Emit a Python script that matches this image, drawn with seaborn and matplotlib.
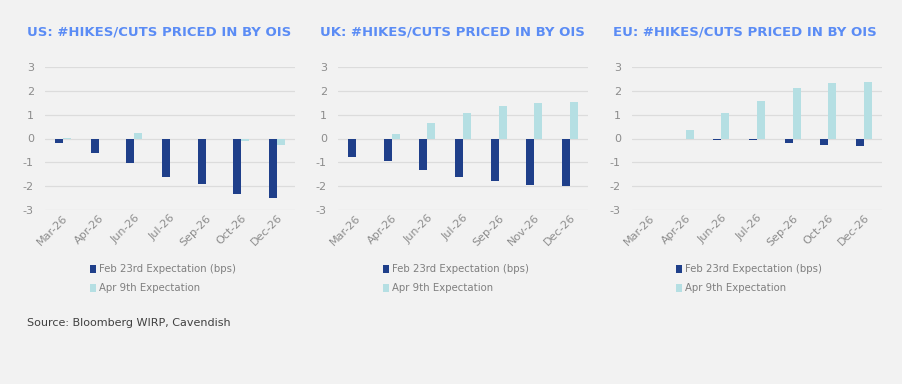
import pandas as pd
import matplotlib
matplotlib.use("Agg")
import matplotlib.pyplot as plt
import seaborn as sns

# Data (number of hikes/cuts priced in)
us_months = ["Mar-26", "Apr-26", "Jun-26", "Jul-26", "Sep-26", "Oct-26", "Dec-26"]
us_feb = [-0.17, -0.62, -1.03, -1.6, -1.9, -2.33, -2.49]
us_apr = [0.02, 0.0, 0.25, 0.0, -0.04, -0.1, -0.28]

uk_months = ["Mar-26", "Apr-26", "Jun-26", "Jul-26", "Sep-26", "Nov-26", "Dec-26"]
uk_feb = [-0.78, -0.96, -1.34, -1.62, -1.78, -1.96, -1.99]
uk_apr = [0.0, 0.17, 0.66, 1.06, 1.37, 1.48, 1.54]

eu_months = ["Mar-26", "Apr-26", "Jun-26", "Jul-26", "Sep-26", "Oct-26", "Dec-26"]
eu_feb = [0.0, 0.0, -0.07, -0.07, -0.2, -0.26, -0.33]
eu_apr = [0.0, 0.36, 1.06, 1.58, 2.1, 2.32, 2.38]

series_names = ["Feb 23rd Expectation (bps)", "Apr 9th Expectation"]
titles = ["US: #HIKES/CUTS PRICED IN BY OIS",
          "UK: #HIKES/CUTS PRICED IN BY OIS",
          "EU: #HIKES/CUTS PRICED IN BY OIS"]

BG = "#f2f2f2"
DARK = "#1f3f8a"
LIGHT = "#b5dfe3"
TITLE_COLOR = "#5b8cf5"
TICK_COLOR = "#8c8c8c"


def to_long(months, feb, apr):
    """Long format frame for seaborn hue bars"""
    return pd.DataFrame({
        "month": months * 2,
        "value": feb + apr,
        "series": [series_names[0]] * len(months) + [series_names[1]] * len(months),
    })


sns.set_theme(style="whitegrid", rc={
    "figure.facecolor": BG,
    "axes.facecolor": BG,
    "grid.color": "#dcdcdc",
    "grid.linewidth": 0.9,
})
plt.rcParams["font.family"] = ["DejaVu Sans"]
plt.rcParams["axes.unicode_minus"] = False

fig = plt.figure(figsize=(9.03, 3.84), dpi=100)

panels = [
    (us_months, us_feb, us_apr, 45, 92, 27),
    (uk_months, uk_feb, uk_apr, 338, 385, 320),
    (eu_months, eu_feb, eu_apr, 632, 678, 613),
]

W, H = 903, 384
for (months, feb, apr, left_px, leg_px, title_px), title in zip(panels, titles):
    ax = fig.add_axes([left_px / W, 1 - 210 / H, 250 / W, 143 / H])
    df = to_long(months, feb, apr)
    sns.barplot(data=df, x="month", y="value", hue="series",
                palette=[DARK, LIGHT], width=0.45, linewidth=0,
                saturation=1, ax=ax)
    ax.set_ylim(-3, 3)
    ax.set_xlim(-0.5, len(months) - 0.5)
    ax.set_yticks([-3, -2, -1, 0, 1, 2, 3])
    ax.set_xlabel("")
    ax.set_ylabel("")
    ax.xaxis.grid(False)
    ax.set_axisbelow(True)
    for s in ax.spines.values():
        s.set_visible(False)
    ax.tick_params(axis="y", labelsize=8, labelcolor=TICK_COLOR, pad=8, length=0)
    ax.tick_params(axis="x", labelsize=8, labelcolor=TICK_COLOR, pad=2, length=0)
    for lab in ax.get_xticklabels():
        lab.set_rotation(45)
        lab.set_ha("right")
        lab.set_rotation_mode("anchor")

    # legend under each panel
    lx = (leg_px - left_px) / 250
    sns.move_legend(ax, "upper left", bbox_to_anchor=(lx - 0.007, -0.38),
                    frameon=False, title=None, fontsize=7.3,
                    handlelength=0.55, handleheight=0.75, handletextpad=0.3,
                    labelspacing=0.9, borderaxespad=0, borderpad=0,
                    labelcolor="#7f7f7f")

    fig.text(title_px / W, 1 - 32 / H, title, ha="left", va="center",
             fontsize=9.5, fontweight="bold", color=TITLE_COLOR)

fig.text(27 / W, 1 - 323 / H, "Source: Bloomberg WIRP, Cavendish",
         ha="left", va="center", fontsize=8, color="#404040")

fig.savefig("out.png", dpi=100, facecolor=BG)
